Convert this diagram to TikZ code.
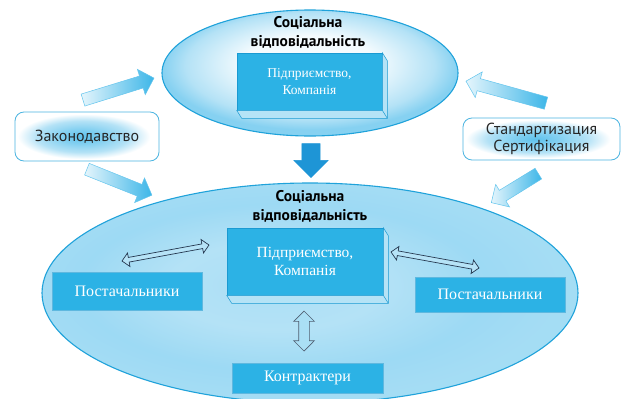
\documentclass[tikz,border=0pt]{standalone}
\usepackage{fontspec}
\setmainfont{PT Sans}
\newfontfamily\boxfont{Liberation Serif}
\usetikzlibrary{shapes.arrows,calc}

\definecolor{boxblue}{HTML}{2CB2E5}
\definecolor{boxedge}{HTML}{1A9AD2}
\definecolor{edgeblue}{HTML}{1FA2DA}
\definecolor{glowA}{HTML}{F4FBFE}
\definecolor{glowB}{HTML}{B4E2F6}
\definecolor{glowC}{HTML}{86D1F1}
\definecolor{glowD}{HTML}{5EC2EC}
\definecolor{bevel}{HTML}{B5E3F6}
\definecolor{arrowlight}{HTML}{E4F5FC}
\definecolor{arrowblue}{HTML}{3DB6E8}
\definecolor{downblue}{HTML}{1E95D6}
\definecolor{darkline}{HTML}{24374F}

\pgfdeclareradialshading{ellglow}{\pgfpoint{0bp}{5bp}}{color(0bp)=(glowA); color(11bp)=(glowA); color(21bp)=(glowB); color(25bp)=(glowC); color(50bp)=(glowC)}
\pgfdeclareradialshading{bigglow}{\pgfpoint{-4bp}{2bp}}{color(0bp)=(glowB!80!glowC); color(10bp)=(glowB); color(19bp)=(glowB!50!glowC); color(25bp)=(glowC!75!white); color(50bp)=(glowC!75!white)}
\pgfdeclareradialshading{boxglow}{\pgfpoint{-2bp}{0bp}}{color(0bp)=(glowD); color(8bp)=(glowC); color(16bp)=(glowB); color(23bp)=(white); color(50bp)=(white)}

\tikzset{
  face/.style={fill=boxblue, draw=boxedge, line width=0.6pt, inner sep=0pt, align=center,
    text=white, font=\boxfont\fontsize{15.5}{18.5}\selectfont},
  smallface/.style={face, font=\boxfont\fontsize{13.5}{17.5}\selectfont},
  flatbox/.style={fill=boxblue, draw=boxedge!70!white, line width=0.6pt, inner sep=0pt,
    text=white, font=\boxfont\fontsize{16}{18}\selectfont},
  bevelpart/.style={fill=bevel, draw=boxedge, line width=0.5pt},
  title/.style={align=center, font=\bfseries\fontsize{15.5}{19}\selectfont, text=black},
  glowbox/.style={rounded corners=9pt, draw=edgeblue!80!white, line width=0.8pt,
    shading=boxglow, inner sep=0pt, align=center, text=black!85,
    font=\fontsize{16}{20}\selectfont},
  oval/.style={draw=edgeblue, line width=1.1pt},
  fat/.style={to path={let \p1=($(\tikztotarget)-(\tikztostart)$), \n1={atan2(\y1,\x1)},
    \n2={veclen(\x1,\y1)} in
    node[single arrow, inner xsep=0pt, minimum height=\n2, rotate=\n1, anchor=center, #1]
      at ($(\tikztostart)!0.5!(\tikztotarget)$) {}}},
  twin/.style={to path={let \p1=($(\tikztotarget)-(\tikztostart)$), \n1={atan2(\y1,\x1)},
    \n2={veclen(\x1,\y1)} in
    node[double arrow, inner xsep=0pt, minimum height=\n2, rotate=\n1, anchor=center, #1]
      at ($(\tikztostart)!0.5!(\tikztotarget)$) {}}},
  glowarrow/.style={inner ysep=6pt, single arrow head extend=7pt,
    single arrow head indent=0pt, left color=arrowlight, right color=arrowblue,
    draw=arrowblue!80!white, line width=0.5pt},
  downarrow/.style={inner ysep=9pt, single arrow head extend=8pt,
    fill=downblue, draw=downblue},
  thintwin/.style={inner ysep=2pt, double arrow head extend=4.5pt,
    fill=glowC!60!white, draw=darkline, line width=0.7pt},
  widetwin/.style={inner ysep=5pt, double arrow head extend=5pt,
    fill=glowC!70!white, draw=darkline!80, line width=0.7pt},
}

\begin{document}
\begin{tikzpicture}[x=1pt, y=-1pt]
\useasboundingbox (0,0) rectangle (622,399);
\clip (0,0) rectangle (622,399);
\fill[white] (0,0) rectangle (622,399);

% ellipses
\shade[shading=bigglow] (310,293) ellipse [x radius=268, y radius=110];
\draw[oval] (310,293) ellipse [x radius=268, y radius=110];
\shade[shading=ellglow] (310,73) ellipse [x radius=148, y radius=63];
\draw[oval] (310,73) ellipse [x radius=148, y radius=63];

% top ellipse content
\node[title] (t1) at (308,32) {Соціальна\\відповідальність};
\node[smallface, minimum width=145pt, minimum height=57pt] (c1) at (309.5,81.5) {Підприємство,\\Компанія};
\fill[bevelpart] (c1.north east) -- ++(5,8) -- ($(c1.south east)+(5,8)$) -- ($(c1.south west)+(5,8)$) -- (c1.south west) -- (c1.south east) -- cycle;
\draw[boxedge, line width=0.5pt] (c1.south east) -- ++(5,8);

% big ellipse content
\node[title] (t2) at (310,206) {Соціальна\\відповідальність};
\node[face, minimum width=156pt, minimum height=67pt] (c2) at (305,261.5) {Підприємство,\\Компанія};
\fill[bevelpart] (c2.north east) -- ++(5,8) -- ($(c2.south east)+(5,8)$) -- ($(c2.south west)+(5,8)$) -- (c2.south west) -- (c2.south east) -- cycle;
\draw[boxedge, line width=0.5pt] (c2.south east) -- ++(5,8);

\node[flatbox, minimum width=150pt, minimum height=38pt] (p1) at (127,291) {Постачальники};
\node[flatbox, minimum width=150pt, minimum height=35pt] (p2) at (490,294.5) {Постачальники};
\node[flatbox, minimum width=151pt, minimum height=30pt] (k) at (307.5,378) {Контрактери};

% side boxes
\node[glowbox, minimum width=144pt, minimum height=49pt] (law) at (87,136.5) {Законодавство};
\node[glowbox, minimum width=157pt, minimum height=42pt] (std) at (541.5,139) {Стандартизация\\[-3pt]Сертифікация};

% connector ends
\coordinate (la1) at (80,101);
\coordinate (la2) at (151,79);
\coordinate (lb1) at (84,168);
\coordinate (lb2) at (149,194);
\coordinate (ra1) at (549,104);
\coordinate (ra2) at (469,82);
\coordinate (rb1) at (541,172);
\coordinate (rb2) at (494,201);
\coordinate (d1) at (311,139);
\coordinate (d2) at (311,173);
\coordinate (p1a) at (122,261);
\coordinate (c2a) at (209,245);
\coordinate (c2b) at (391,252);
\coordinate (p2a) at (479,268);
\coordinate (c2c) at (304,311);
\coordinate (ka) at (304,351);

\path (la1) to[fat=glowarrow] (la2);
\path (lb1) to[fat=glowarrow] (lb2);
\path (ra1) to[fat=glowarrow] (ra2);
\path (rb1) to[fat=glowarrow] (rb2);
\path (d1) to[fat=downarrow] (d2);
\path (p1a) to[twin=thintwin] (c2a);
\path (c2b) to[twin=thintwin] (p2a);
\path (c2c) to[twin=widetwin] (ka);
\end{tikzpicture}
\end{document}
